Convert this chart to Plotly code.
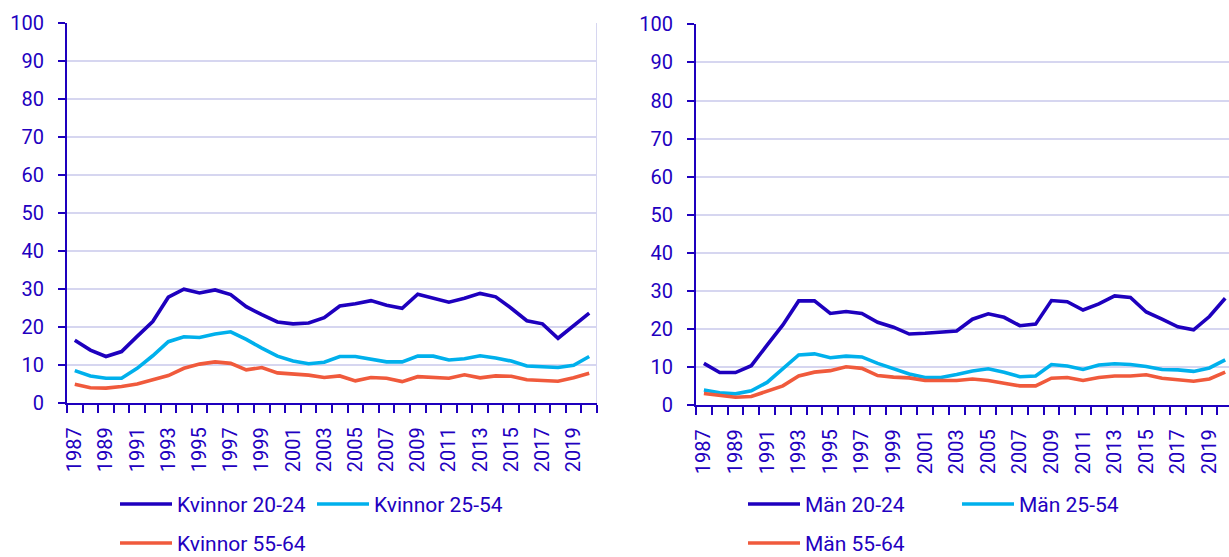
import plotly.graph_objects as go

years = list(range(1987, 2021))
label_years = list(range(1987, 2021, 2))

kv_20_24 = [16.6, 14.0, 12.3, 13.6, 17.6, 21.5, 27.9, 30.0, 29.0, 29.8, 28.6, 25.4, 23.3, 21.4, 20.9, 21.1, 22.5,
            25.6, 26.2, 27.0, 25.8, 25.0, 28.7, 27.6, 26.6, 27.6, 28.9, 28.0, 25.0, 21.7, 20.9, 17.1, 20.3, 23.7]
kv_25_54 = [8.6, 7.2, 6.6, 6.6, 9.2, 12.5, 16.2, 17.5, 17.3, 18.2, 18.8, 16.8, 14.5, 12.4, 11.1, 10.4, 10.8,
            12.3, 12.3, 11.6, 10.9, 10.9, 12.4, 12.4, 11.4, 11.7, 12.5, 11.9, 11.1, 9.8, 9.5, 9.4, 10.0, 12.3]
kv_55_64 = [5.0, 4.1, 4.0, 4.4, 5.1, 6.1, 7.3, 9.2, 10.3, 10.9, 10.5, 8.8, 9.4, 8.0, 7.7, 7.4, 6.8,
            7.2, 5.9, 6.8, 6.6, 5.7, 7.0, 6.8, 6.6, 7.5, 6.7, 7.2, 7.1, 6.2, 6.1, 5.8, 6.7, 7.9]

man_20_24 = [11.0, 8.6, 8.6, 10.4, 15.8, 21.1, 27.4, 27.4, 24.1, 24.6, 24.1, 21.8, 20.5, 18.7, 18.9, 19.1, 19.5,
             22.6, 24.0, 23.1, 20.9, 21.3, 27.5, 27.2, 25.0, 26.6, 28.7, 28.3, 24.5, 22.6, 20.6, 19.8, 23.3, 28.1]
man_25_54 = [4.0, 3.3, 3.0, 3.8, 6.0, 9.7, 13.2, 13.5, 12.5, 12.9, 12.7, 11.0, 9.5, 8.2, 7.3, 7.3,
             8.1, 9.0, 9.6, 8.7, 7.5, 7.7, 10.7, 10.3, 9.4, 10.6, 10.9, 10.7, 10.2, 9.4, 9.3, 8.9, 9.8, 11.9]
man_55_64 = [3.1, 2.6, 2.1, 2.3, 3.6, 5.1, 7.7, 8.7, 9.1, 10.1, 9.7, 7.8, 7.4, 7.2, 6.5, 6.4,
             6.5, 6.9, 6.5, 5.8, 5.1, 5.1, 7.1, 7.3, 6.5, 7.3, 7.7, 7.7, 8.0, 7.1, 6.6, 6.3, 6.9, 8.7]

names_kv = ["Kvinnor 20-24", "Kvinnor 25-54", "Kvinnor 55-64"]
names_man = ["Män 20-24", "Män 25-54", "Män 55-64"]

DARK = "#1E00BE"
LIGHT = "#00B0EC"
RED = "#F05A3C"
GRID = "#D6D6F0"
TXT = "#2200C0"
LW = 3.6

# body margin is removed by the post script, so the figure fills the window exactly
W, H = 1229, 557


def px(x):
    return x / W


def py(y):
    return 1 - y / H


colors = [DARK, LIGHT, RED]
legend_ids = ["legend"] + [f"legend{k}" for k in range(2, 7)]

fig = go.Figure()
left_series = [kv_20_24, kv_25_54, kv_55_64]
right_series = [man_20_24, man_25_54, man_55_64]
for i, s in enumerate(left_series):
    fig.add_trace(go.Scatter(x=years, y=s, mode="lines", name=names_kv[i], line=dict(color=colors[i], width=LW),
                             xaxis="x", yaxis="y", showlegend=False))
for i, s in enumerate(right_series):
    fig.add_trace(go.Scatter(x=years, y=s, mode="lines", name=names_man[i], line=dict(color=colors[i], width=LW),
                             xaxis="x2", yaxis="y2", showlegend=False))

# legend entries (text only; key lines are drawn as shapes so they can be the reference's length)
for k, n in enumerate(names_kv + names_man):
    fig.add_trace(go.Scatter(x=[None], y=[None], mode="lines", name=n, line=dict(color=colors[k % 3], width=0),
                             xaxis="x" if k < 3 else "x2", yaxis="y" if k < 3 else "y2",
                             showlegend=True, legend=legend_ids[k]))


def xax(domain, rng, anchor):
    return dict(domain=domain, range=rng, anchor=anchor, showgrid=False, zeroline=False, automargin=False,
                showline=True, linecolor=DARK, linewidth=2,
                tickmode="array", tickvals=label_years, ticktext=[str(y) for y in label_years],
                ticks="", tickangle=-90, ticklabelstandoff=14,
                tickfont=dict(family="Roboto", size=20, color=TXT),
                minor=dict(ticks="outside", tick0=1986.5, dtick=1, ticklen=8, tickwidth=2,
                           tickcolor=DARK, showgrid=False))


def yax(domain, anchor):
    return dict(domain=domain, range=[0, 100], anchor=anchor, tickmode="array", automargin=False,
                tickvals=list(range(0, 101, 10)), showgrid=True, gridcolor=GRID, gridwidth=2,
                zeroline=False, showline=True, linecolor=DARK, linewidth=2,
                ticks="outside", ticklen=7, tickwidth=2, tickcolor=DARK, ticklabelstandoff=10,
                tickfont=dict(family="Roboto", size=20, color=TXT))


# legend entries: (text start x, row y) in reference pixels
leg_pos = [(178, 504), (375, 504), (178, 543), (806, 504), (1020, 504), (806, 543)]

key_shapes = []
for (tx, ty), c in zip(leg_pos, colors + colors):
    key_shapes.append(dict(type="line", xref="paper", yref="paper", x0=px(tx - 58), x1=px(tx - 6),
                           y0=py(ty), y1=py(ty), line=dict(color=c, width=LW)))

fig.update_layout(
    width=W, height=H, margin=dict(l=0, r=0, t=0, b=0, autoexpand=False),
    paper_bgcolor="white", plot_bgcolor="white", showlegend=True,
    font=dict(family="Roboto", size=20, color=TXT),
    xaxis=xax([px(67), px(597)], [1986.5, 2020.5], "y"),
    yaxis=yax([py(403.3), py(23)], "x"),
    xaxis2=xax([px(696), 1.0], [1986.5, 2020.24], "y2"),
    yaxis2=yax([py(405.3), py(24.3)], "x2"),
    shapes=[dict(type="line", xref="x", yref="y", x0=2020.5, x1=2020.5, y0=0, y1=100,
                 line=dict(color=GRID, width=2), layer="below")] + key_shapes,
)


def leg(text_x, ypx):
    return dict(x=px(text_x - 41), y=py(ypx), xanchor="left", yanchor="middle", orientation="h",
                bgcolor="rgba(0,0,0,0)", font=dict(family="Roboto", size=21, color=TXT))


fig.update_layout(**{legend_ids[k]: leg(*leg_pos[k]) for k in range(6)})

fig.write_html("out.html", config={"displayModeBar": False},
               post_script="document.body.style.margin='0';document.body.style.overflow='hidden';")
